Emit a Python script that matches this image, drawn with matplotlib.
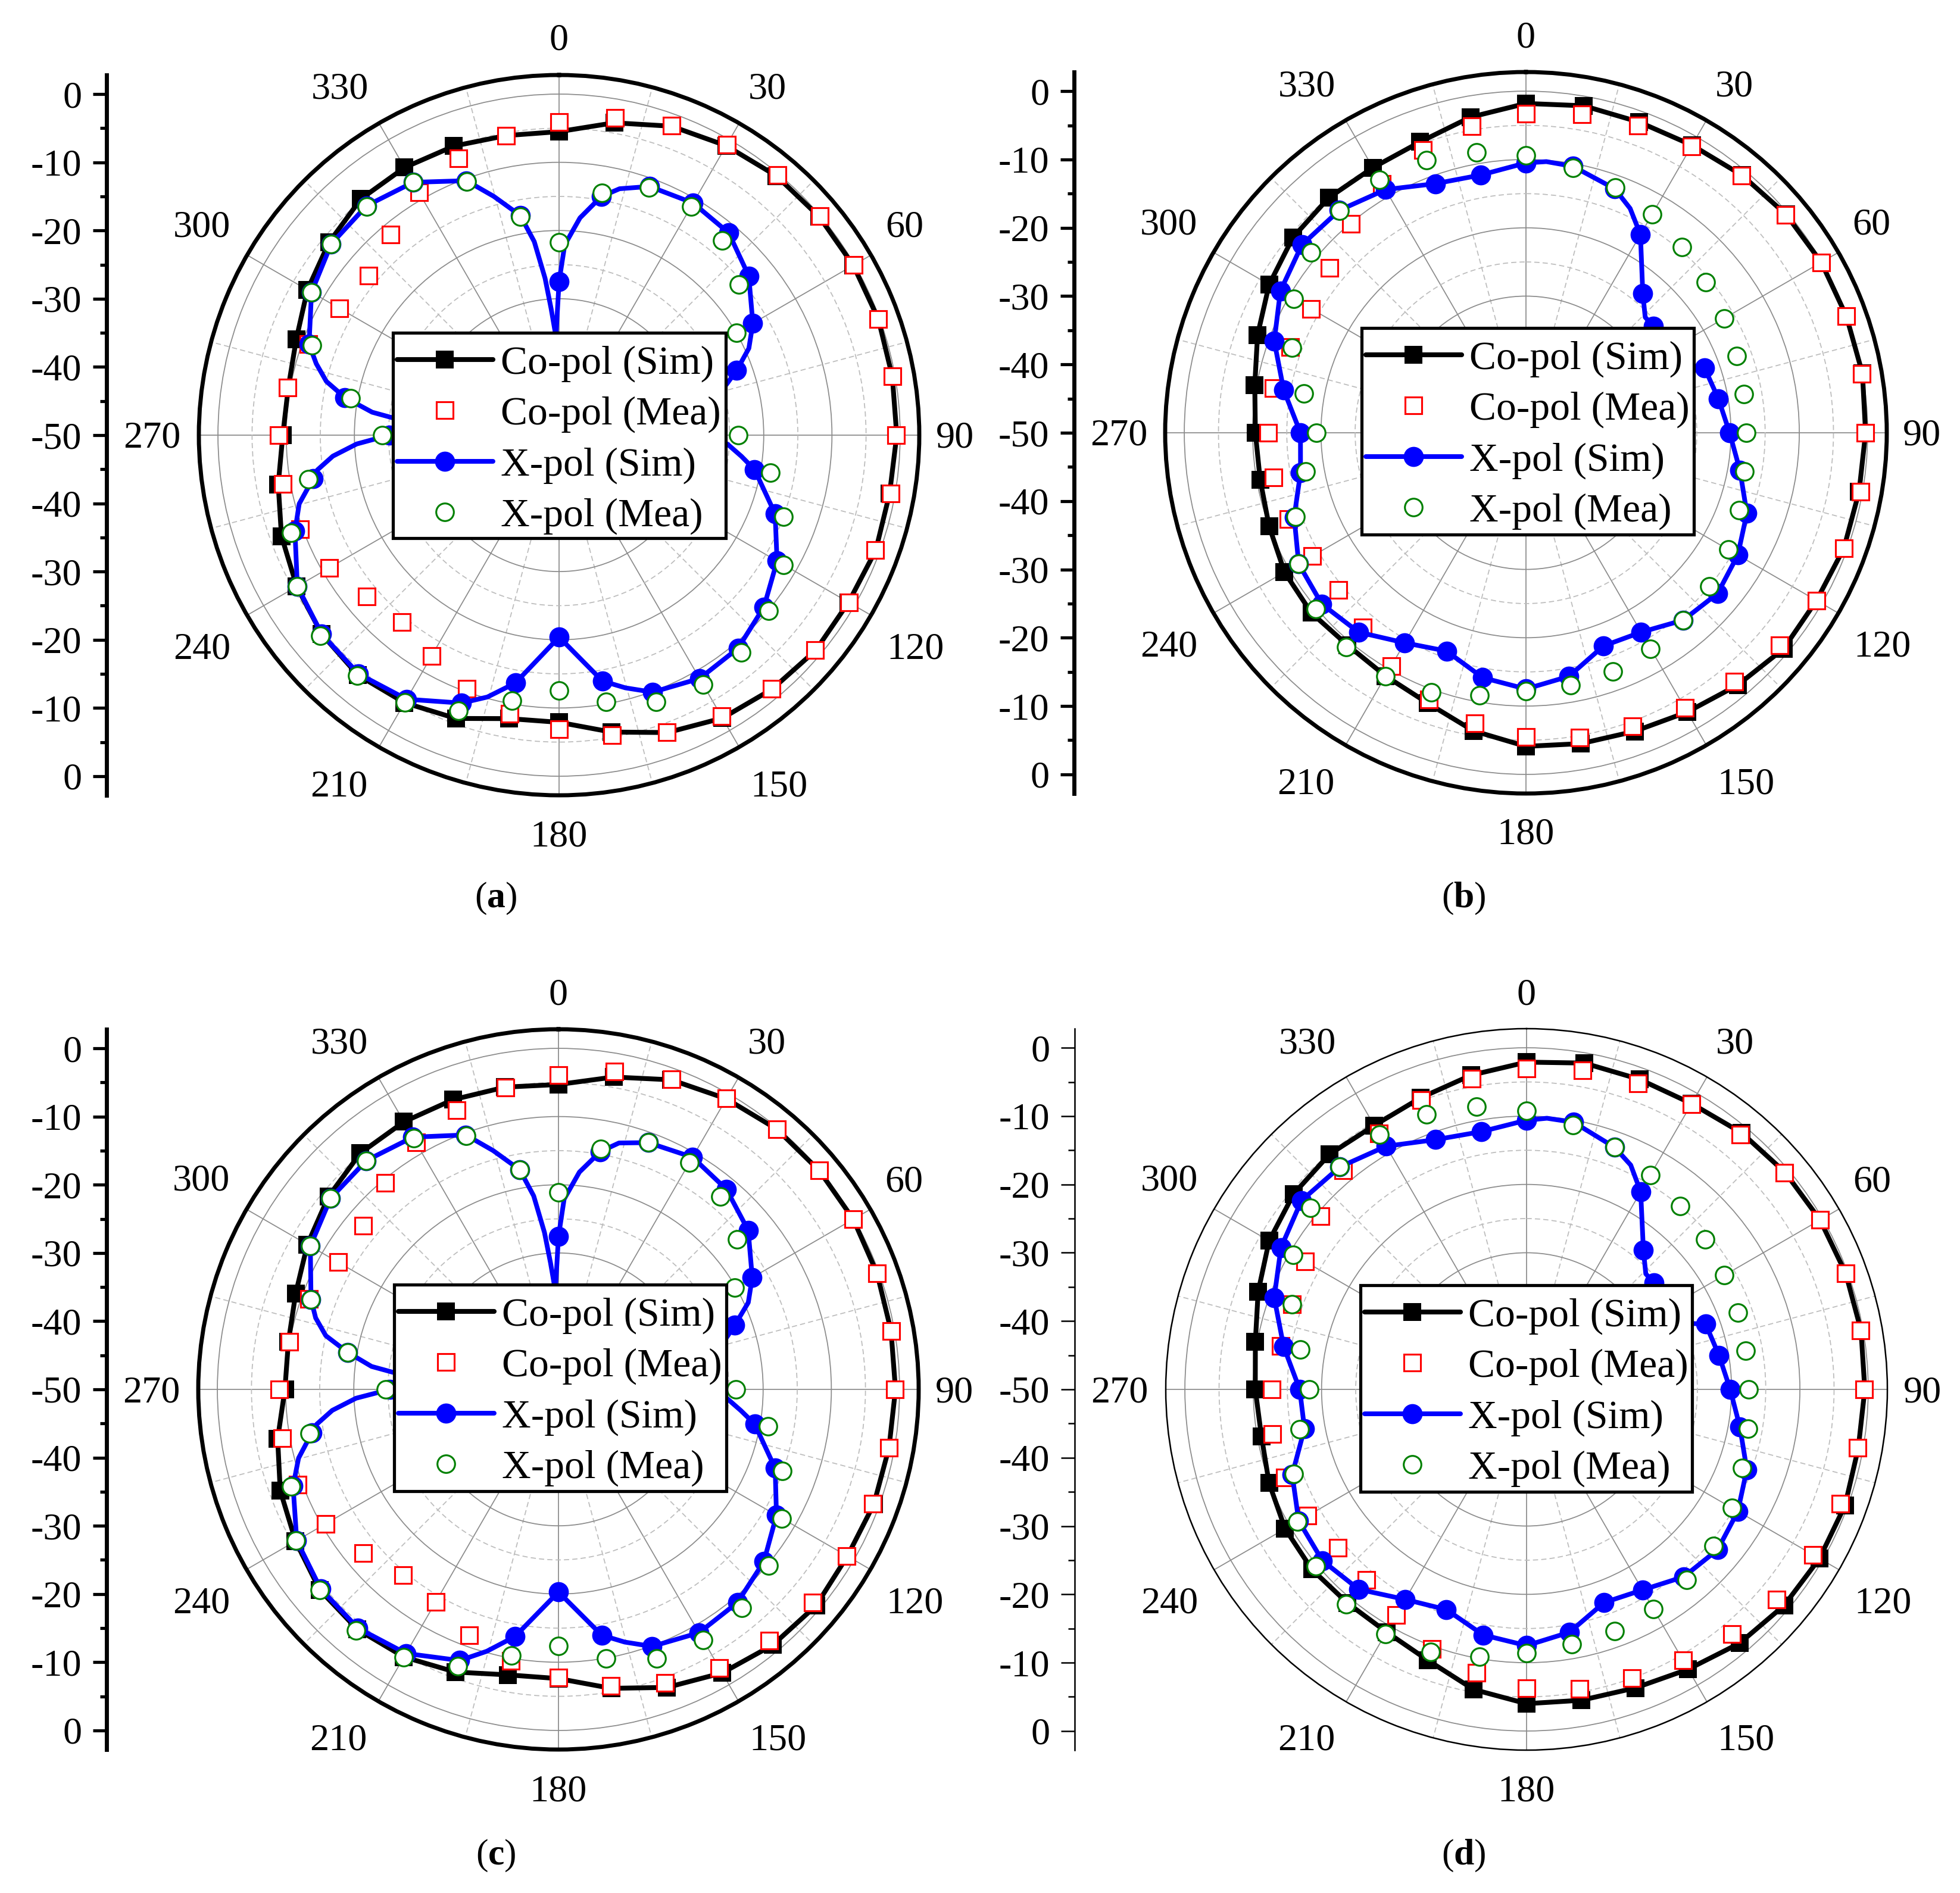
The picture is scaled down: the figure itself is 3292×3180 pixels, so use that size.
import numpy as np
import matplotlib
matplotlib.use("Agg")
import matplotlib.pyplot as plt
from matplotlib.lines import Line2D
from matplotlib.patches import Rectangle

plt.rcParams['font.family'] = ['Liberation Serif', 'DejaVu Serif']
plt.rcParams['mathtext.fontset'] = 'custom'
plt.rcParams['mathtext.rm'] = 'Liberation Serif'
plt.rcParams['mathtext.bf'] = 'Liberation Serif:bold'

W, H = 3292, 3180
DPI = 300

angles = list(range(0, 360, 10))

co_sim_a = [-5.5,-3.5,-1.8,-1.0,-0.4,-0.2,-0.2,-0.2,-0.4,-0.5,-0.8,-0.6,-1.0,-0.9,-1.4,-2.1,-3.6,-5.8,
            -7.9,-7.8,-5.8,-4.7,-4.1,-4.6,-5.6,-6.7,-8.2,-9.5,-9.7,-9.0,-7.4,-6.0,-4.8,-4.7,-4.9,-5.4]
co_mea_a = [-4.1,-2.8,-1.7,-0.8,-0.2,-0.1,-0.1,-0.2,-0.4,-0.6,-0.6,-0.7,-0.9,-1.0,-1.5,-2.4,-3.7,-5.3,
            -6.9,-8.5,-10.4,-12.6,-14.2,-13.2,-11.1,-9.6,-8.9,-8.9,-9.6,-10.9,-12.8,-13.6,-11.6,-8.9,-6.8,-5.4]
x_sim_a = [-27.5,-14.5,-11.2,-10.7,-11.3,-13.7,-17.2,-22.3,-30,-31,-20.9,-16.3,-13.1,-10.8,-9.2,-8.8,-9.9,-13.4,
           -20.4,-13.1,-8.2,-5.3,-4.3,-4.6,-5.7,-8.8,-13.4,-25.1,-18.1,-11.0,-8.1,-6.4,-6.1,-7.2,-10.3,-17.3]
x_mea_a = [-21.7,-13.9,-11.4,-11.3,-12.8,-15.6,-20.0,-30,-30,-23.7,-18.5,-15.0,-12.0,-9.9,-8.4,-7.8,-8.4,-10.3,
           -12.6,-10.5,-7.0,-4.8,-4.0,-4.3,-5.7,-8.2,-12.7,-24.1,-19.0,-11.5,-8.1,-6.4,-6.2,-7.2,-10.4,-17.5]

co_sim_b = [-1.8,-1.4,-1.6,-1.4,-0.8,-0.3,-0.1,-0.1,0.0,-0.3,-0.5,-0.5,-0.9,-0.8,-1.8,-2.8,-3.5,-3.8,
            -4.1,-5.7,-7.9,-8.9,-9.4,-9.0,-9.2,-10.0,-10.5,-10.4,-9.7,-8.2,-6.6,-5.5,-5.1,-5.2,-4.7,-3.1]
co_mea_b = [-3.3,-2.7,-2.2,-1.6,-0.9,-0.4,-0.1,-0.1,-0.1,-0.3,-0.3,-0.5,-0.9,-1.6,-2.5,-3.5,-4.3,-4.7,
            -5.5,-6.8,-8.5,-10.6,-12.8,-14.2,-13.9,-13.0,-12.5,-12.3,-12.5,-13.3,-13.7,-12.5,-10.1,-7.9,-6.0,-4.4]
x_sim_b = [-10.5,-10.4,-12.0,-16.5,-23.4,-25.7,-30,-22.2,-21.4,-20.2,-18.2,-15.6,-14.2,-13.4,-14.2,-16.3,-16.8,-13.8,
           -12.5,-13.6,-16.0,-14.5,-11.9,-11.0,-11.6,-13.9,-16.5,-17.0,-14.0,-10.8,-8.5,-7.2,-7.5,-8.9,-11.2,-11.7]
x_mea_b = [-9.4,-10.6,-11.8,-13.1,-14.5,-15.7,-16.5,-17.2,-17.6,-17.8,-17.5,-16.8,-15.8,-15.0,-14.2,-13.5,-12.8,-12.5,
           -12.2,-11.0,-9.6,-8.9,-9.0,-9.9,-11.6,-14.1,-17.3,-19.3,-17.0,-13.6,-10.8,-8.9,-7.6,-7.2,-7.5,-8.3]

co_sim_c = [-5.3,-3.5,-1.7,-0.8,-0.2,-0.1,-0.1,-0.3,-0.5,-0.6,-0.8,-0.8,-1.1,-0.7,-1.1,-2.0,-3.5,-5.5,
            -7.6,-7.5,-5.9,-4.7,-4.1,-4.3,-5.5,-6.6,-8.2,-9.9,-9.8,-9.0,-7.5,-6.0,-4.8,-4.7,-4.8,-5.0]
co_mea_c = [-3.9,-2.7,-1.6,-0.7,-0.2,-0.1,-0.1,-0.3,-0.5,-0.7,-0.8,-1.0,-1.2,-1.4,-1.9,-2.8,-4.2,-5.9,
            -7.8,-9.6,-11.6,-14.0,-14.5,-12.6,-10.6,-9.3,-8.9,-9.1,-9.9,-11.1,-12.7,-12.6,-10.5,-8.2,-6.4,-5.1]
x_sim_c = [-27.6,-14.6,-11.5,-10.7,-11.7,-13.7,-17.2,-22.5,-30,-31,-20.8,-16.2,-13.1,-10.7,-9.2,-8.8,-9.9,-13.4,
           -20.3,-13.2,-7.7,-5.3,-4.3,-4.5,-5.7,-8.6,-13.3,-25.3,-18.6,-11.4,-8.0,-6.4,-6.2,-7.3,-10.3,-17.3]
x_mea_c = [-21.1,-14.2,-11.5,-11.6,-13.1,-15.8,-20.2,-30,-30,-24.0,-18.8,-15.1,-12.2,-9.8,-8.2,-7.6,-8.0,-9.9,
           -12.4,-10.4,-6.8,-4.7,-3.9,-4.3,-5.6,-8.3,-13.0,-24.7,-18.6,-11.4,-8.0,-6.4,-6.2,-7.5,-10.4,-17.3]

co_sim_d = [-2.1,-1.5,-1.7,-1.7,-1.0,-0.6,-0.4,-0.3,-0.3,-0.5,-0.7,-0.4,-0.5,-0.8,-1.5,-2.7,-3.5,-3.8,
            -4.0,-5.4,-7.8,-9.0,-9.2,-9.0,-9.2,-9.9,-10.6,-10.3,-9.7,-8.2,-6.5,-5.5,-5.1,-5.4,-4.6,-3.3]
co_mea_d = [-3.0,-2.6,-2.3,-1.8,-1.3,-0.7,-0.4,-0.3,-0.4,-0.6,-0.8,-1.1,-1.6,-2.2,-3.2,-4.2,-5.0,-5.5,
            -6.3,-7.9,-9.6,-11.9,-13.6,-14.0,-13.0,-12.4,-12.2,-12.7,-13.5,-13.5,-12.6,-10.6,-8.2,-6.7,-4.9,-3.8]
x_sim_d = [-10.6,-10.3,-12.3,-16.6,-23.4,-25.7,-30,-22.1,-21.4,-20.2,-18.3,-15.7,-14.3,-13.5,-14.2,-16.1,-16.8,-13.9,
           -12.5,-13.5,-15.7,-14.5,-11.8,-11.0,-11.5,-13.5,-17.0,-16.8,-13.9,-10.7,-8.5,-7.0,-7.5,-8.9,-11.1,-11.7]
x_mea_d = [-9.2,-10.7,-12.3,-13.8,-15.0,-15.9,-16.6,-17.1,-17.4,-17.5,-17.1,-16.4,-15.3,-14.3,-13.6,-12.9,-12.4,-12.1,
           -11.4,-10.3,-9.1,-8.7,-8.9,-9.7,-11.3,-13.7,-16.3,-18.2,-16.4,-13.5,-10.6,-8.7,-7.5,-6.9,-7.2,-8.0]

# extra vertices read from the simulated cross-pol curve between its markers
curve_ang_ac = [344.7,352.7,354.9,356.4,357.8,358.2,358.5,1.7,5.5,13.8,65.4,73.2,93,96.6,165.3,195.3,255.2,
                261.8,264.7,267.5,272.5,275.9,277.0,283.0,286.4]
curve_val_ac = [-13.7,-21.4,-26.9,-31.4,-34.8,-42,-34.6,-22.1,-18,-12.8,-19.4,-24.4,-25.3,-23.1,-11.7,-10.2,-10.6,
                -14.2,-16.7,-20.3,-36,-25.6,-22.4,-15,-12.9]
curve_ang_bd = [4.3,24.9,45.9]
curve_val_bd = [-10.2,-13.8,-25.7]

legend_labels = ['Co-pol (Sim)', 'Co-pol (Mea)', 'X-pol (Sim)', 'X-pol (Mea)']
theta_labels = ['0','30','60','90','120','150','180','210','240','270','300','330']
label_dx = [0,350,580,665,599,369,0,-370,-600,-684,-600,-368]
label_dy = [662,580,348,-6,-361,-591,-676,-591,-361,-6,349,580]
left_tick_pos = [50,40,30,20,10,0,-10,-20,-30,-40,-50]
left_tick_txt = ['0','-10','-20','-30','-40','-50','-40','-30','-20','-10','0']

RMIN, RMAX = -50, 2.8
FS = 15.4
pt = 72.0 / DPI


def closed(v):
    return np.deg2rad(angles + [360]), list(v) + [v[0]]


def sim_curve(v, ea, ev):
    pairs = sorted(list(zip(angles, v)) + list(zip(ea, ev)))
    a = [p[0] for p in pairs] + [360]
    r = [p[1] for p in pairs] + [pairs[0][1]]
    return np.deg2rad(a), r


def panel(cx, cy, R, axis_x, box, tag, tag_xy, co_s, co_m, x_s, x_m, ea, ev, lw_frame, lw_tick):
    ax = fig.add_axes([(cx - R) / W, 1 - (cy + R) / H, 2 * R / W, 2 * R / H], projection='polar')
    ax.set_theta_zero_location('N')
    ax.set_theta_direction(-1)
    ax.set_rlim(RMIN, RMAX)
    ax.set_axisbelow(True)
    ax.set_xticks(np.deg2rad(np.arange(0, 360, 30)))
    ax.set_xticks(np.deg2rad(np.arange(15, 360, 30)), minor=True)
    ax.set_xticklabels([])
    ax.set_yticks(np.arange(-40, 1, 10))
    ax.set_yticks(np.arange(-45, 0, 10), minor=True)
    ax.set_yticklabels([])
    ax.tick_params(axis='y', which='both', length=0, labelleft=False)
    ax.tick_params(axis='x', which='major', direction='in', length=20 * pt, width=lw_tick)
    ax.tick_params(axis='x', which='minor', direction='in', length=10 * pt, width=lw_tick)
    ax.grid(True, which='major', color='#8c8c8c', lw=0.42, ls='-')
    ax.grid(True, which='minor', color='#bdbdbd', lw=0.42, ls=(0, (5, 3)))
    ax.spines['polar'].set_linewidth(lw_frame)

    kw = dict(clip_on=False)
    ax.plot(*closed(co_s), color='k', lw=1.95, zorder=3, **kw)
    ax.plot(np.deg2rad(angles), co_s, ls='', marker='s', ms=7.2, color='k', mew=0, zorder=3, **kw)
    ax.plot(np.deg2rad(angles), co_m, ls='', marker='s', ms=6.5, mfc='white', mec='red', mew=0.75, zorder=4, **kw)
    ax.plot(*sim_curve(x_s, ea, ev), color='#0000ff', lw=1.9, zorder=5, **kw)
    ax.plot(np.deg2rad(angles), x_s, ls='', marker='o', ms=8.1, color='#0000ff', mew=0, zorder=5, **kw)
    ax.plot(np.deg2rad(angles), x_m, ls='', marker='o', ms=7.1, mfc='white', mec='green', mew=0.75, zorder=6, **kw)

    for s, dx, dy in zip(theta_labels, label_dx, label_dy):
        fig.text((cx + dx) / W, 1 - (cy - dy) / H, s, ha='center', va='center', fontsize=FS)

    # left scale
    a2 = fig.add_axes([axis_x / W, 1 - (cy + R) / H, 0.001, 2 * R / H])
    a2.patch.set_visible(False)
    a2.set_ylim(-(RMAX - RMIN), RMAX - RMIN)
    a2.set_xticks([])
    for k in ('top', 'right', 'bottom'):
        a2.spines[k].set_visible(False)
    a2.spines['left'].set_linewidth(lw_frame)
    a2.set_yticks(left_tick_pos)
    a2.set_yticklabels(left_tick_txt, fontsize=FS)
    a2.set_yticks(np.arange(-45, 50, 10), minor=True)
    a2.tick_params(axis='y', which='major', length=23 * pt, width=lw_tick, pad=4.5)
    a2.tick_params(axis='y', which='minor', length=11 * pt, width=lw_tick)

    x0, y0, x1, y1 = box
    fig.add_artist(Rectangle((x0 / W, 1 - y1 / H), (x1 - x0) / W, (y1 - y0) / H, transform=fig.transFigure,
                             facecolor='white', edgecolor='k', lw=1.25, zorder=4))
    hs = [Line2D([], [], color='k', lw=1.95, marker='s', ms=7.2, mew=0, solid_capstyle='round'),
          Line2D([], [], ls='', marker='s', ms=6.5, mfc='white', mec='red', mew=0.75),
          Line2D([], [], color='#0000ff', lw=1.9, marker='o', ms=8.1, mew=0, solid_capstyle='round'),
          Line2D([], [], ls='', marker='o', ms=7.1, mfc='white', mec='green', mew=0.75)]
    leg = fig.legend(hs, legend_labels, loc='upper left',
                     bbox_to_anchor=((x0 + 7) / W, 1 - (y0 + 21) / H), bbox_transform=fig.transFigure,
                     fontsize=16.2, frameon=False,
                     borderaxespad=0, borderpad=0, handlelength=2.38, handletextpad=0.2,
                     labelspacing=0.352, numpoints=1)
    leg.set_zorder(5)

    fig.text(tag_xy[0] / W, 1 - tag_xy[1] / H, r'($\mathbf{%s}$)' % tag, ha='center', va='center', fontsize=14.8)


fig = plt.figure(figsize=(W / DPI, H / DPI), dpi=DPI, facecolor='white')

panel(939, 731, 605, 179, (660, 559, 1219, 904), 'a', (833, 1509), co_sim_a, co_mea_a, x_sim_a, x_mea_a,
      curve_ang_ac, curve_val_ac, 1.65, 1.25)
panel(2563, 727, 606, 1804, (2287, 551, 2845, 898), 'b', (2458, 1509), co_sim_b, co_mea_b, x_sim_b, x_mea_b,
      curve_ang_bd, curve_val_bd, 1.65, 1.25)
panel(938, 2334, 605, 179, (662, 2158, 1220, 2505), 'c', (833, 3117), co_sim_c, co_mea_c, x_sim_c, x_mea_c,
      curve_ang_ac, curve_val_ac, 1.65, 1.25)
panel(2564, 2334, 606, 1805, (2285, 2159, 2842, 2506), 'd', (2458, 3117), co_sim_d, co_mea_d, x_sim_d, x_mea_d,
      curve_ang_bd, curve_val_bd, 0.6, 0.6)

fig.savefig('out.png', dpi=DPI)
